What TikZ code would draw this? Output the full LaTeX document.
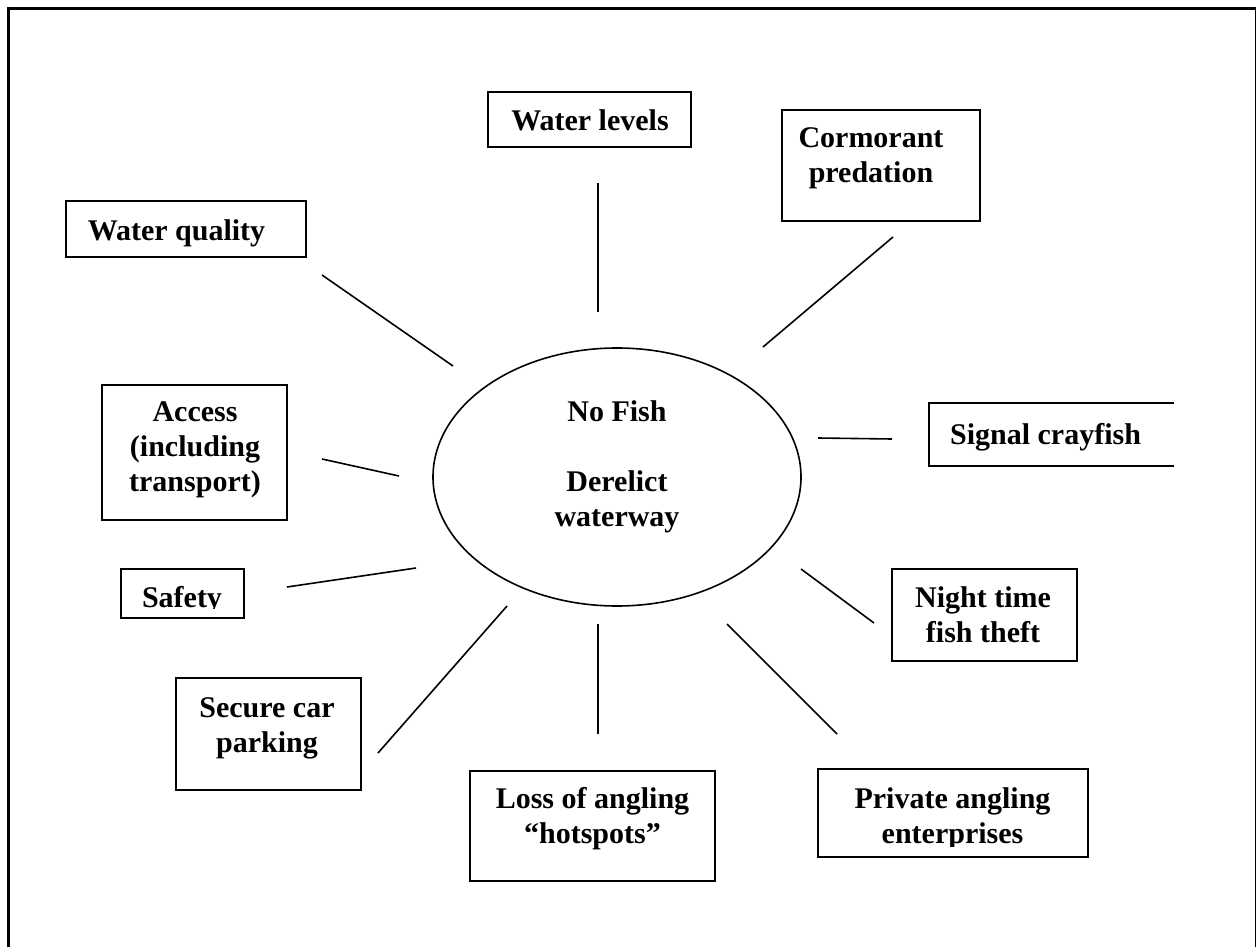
\documentclass[tikz,border=0pt]{standalone}
\usepackage{fontspec}
\setmainfont{Liberation Serif}
\usetikzlibrary{shapes.geometric}

\tikzset{
  box/.style={draw, line width=1.6pt, inner sep=0pt},
  openbox/.style={draw=none, inner sep=0pt},
  hub/.style={draw, ellipse, line width=1.6pt, inner sep=0pt},
  lbl/.style={anchor=north, inner sep=0pt, align=center,
              font=\fontsize{30}{35}\selectfont\bfseries},
  link/.style={line width=1.6pt},
  frame/.style={line width=3pt}
}

\begin{document}
\begin{tikzpicture}[x=1pt, y=-1pt]
  \useasboundingbox (0,0) rectangle (1256,947);
  \clip (0,0) rectangle (1256,947);

  % outer frame, running off the lower edge
  \draw[frame] (8.5,990) |- (1256.5,8.5) -- (1256.5,990);

  % central problem
  \node[hub, minimum width=368pt, minimum height=258pt] (hub) at (617,477) {};
  \node[lbl] (hub-t) at (617,400) {No Fish\\[35pt]Derelict\\waterway};

  % surrounding causes
  \node[box, minimum width=203pt, minimum height=55pt] (wlev) at (589.5,119.5) {};
  \node[lbl] (wlev-t) at (590,109) {Water levels};

  \node[box, minimum width=198pt, minimum height=111pt] (corm) at (881,165.5) {};
  \node[lbl] (corm-t) at (871,127) {Cormorant\\predation};

  \node[box, minimum width=240pt, minimum height=56pt] (wq) at (186,229) {};
  \node[lbl] (wq-t) at (176.5,219) {Water quality};

  \node[box, minimum width=185pt, minimum height=135pt] (acc) at (194.5,452.5) {};
  \node[lbl] (acc-t) at (195,401) {Access\\(including\\transport)};

  \node[openbox, minimum width=245pt, minimum height=63pt] (sig) at (1051.5,434.5) {};
  \draw[line width=1.6pt] (sig.north east) -- (sig.north west)
        -- (sig.south west) -- (sig.south east);
  \node[lbl] (sig-t) at (1045.5,423) {Signal crayfish};

  \node[box, minimum width=123pt, minimum height=49pt] (saf) at (182.5,593.5) {};
  \begin{scope}
    \clip (100,560) rectangle (260,608);
    \node[lbl] (saf-t) at (182,586) {Safety};
  \end{scope}

  \node[box, minimum width=185pt, minimum height=112pt] (sec) at (268.5,734) {};
  \node[lbl] (sec-t) at (267,697) {Secure car\\parking};

  \node[box, minimum width=185pt, minimum height=92pt] (night) at (984.5,615) {};
  \node[lbl] (night-t) at (983,586) {Night time\\fish theft};

  \node[box, minimum width=245pt, minimum height=110pt] (loss) at (592.5,826) {};
  \node[lbl] (loss-t) at (592.5,787) {Loss of angling\\“hotspots”};

  \node[box, minimum width=270pt, minimum height=88pt] (priv) at (953,813) {};
  \begin{scope}
    \clip (820,770) rectangle (1086,846);
    \node[lbl] (priv-t) at (952.5,787) {Private angling\\enterprises};
  \end{scope}

  % free-standing spokes between the causes and the hub
  \coordinate (wlev-a) at (598,183);  \coordinate (wlev-b) at (598,312);
  \coordinate (corm-a) at (893,237);  \coordinate (corm-b) at (763,347);
  \coordinate (wq-a)   at (322,275);  \coordinate (wq-b)   at (453,366);
  \coordinate (acc-a)  at (322,459);  \coordinate (acc-b)  at (399,476);
  \coordinate (sig-a)  at (818,438);  \coordinate (sig-b)  at (892,439);
  \coordinate (saf-a)  at (287,587);  \coordinate (saf-b)  at (416,568);
  \coordinate (night-a) at (801,569); \coordinate (night-b) at (874,623);
  \coordinate (sec-a)  at (378,753);  \coordinate (sec-b)  at (507,606);
  \coordinate (loss-a) at (598,624);  \coordinate (loss-b) at (598,734);
  \coordinate (priv-a) at (727,624);  \coordinate (priv-b) at (837,734);

  \foreach \s in {wlev,corm,wq,acc,sig,saf,night,sec,loss,priv}
    \draw[link] (\s-a) -- (\s-b);
\end{tikzpicture}
\end{document}
